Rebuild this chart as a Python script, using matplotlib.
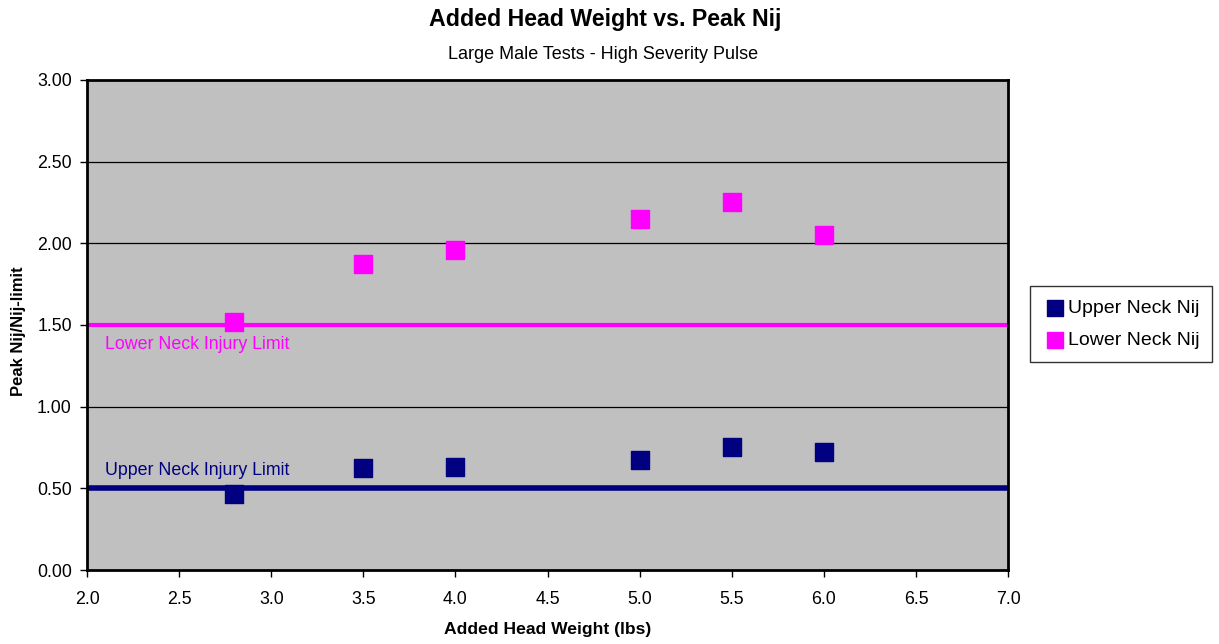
import matplotlib.pyplot as plt
from matplotlib.ticker import FormatStrFormatter

plt.rcParams['font.family'] = ['Liberation Sans', 'DejaVu Sans']

head_weight = [2.8, 3.5, 4.0, 5.0, 5.5, 6.0]
upper_nij = [0.465, 0.624, 0.631, 0.673, 0.752, 0.721]
lower_nij = [1.516, 1.873, 1.959, 2.146, 2.251, 2.049]
upper_limit = 0.5
lower_limit = 1.5

navy = '#000080'
magenta = '#ff00ff'

fig = plt.figure(figsize=(12.19, 6.44), dpi=100)
ax = fig.add_axes([0.0714, 0.1149, 0.7556, 0.7609])
ax.set_facecolor('#c0c0c0')

# grid lines
for y in [0.5, 1.0, 1.5, 2.0, 2.5]:
    ax.axhline(y, color='black', lw=0.9, zorder=1)

ax.axhline(lower_limit, color=magenta, lw=3, zorder=2)
ax.axhline(upper_limit, color=navy, lw=4, zorder=2)

ax.scatter(head_weight, upper_nij, marker='s', s=150, color=navy, zorder=3, label='Upper Neck Nij')
ax.scatter(head_weight, lower_nij, marker='s', s=150, color=magenta, zorder=3, label='Lower Neck Nij')

ax.text(2.1, lower_limit - 0.07, 'Lower Neck Injury Limit', color=magenta, fontsize=12.8, va='top')
ax.text(2.1, upper_limit + 0.06, 'Upper Neck Injury Limit', color=navy, fontsize=12.8, va='bottom')

ax.set_xlim(2.0, 7.0)
ax.set_ylim(0, 3.0)
ax.set_xticks([2.0 + 0.5 * i for i in range(11)])
ax.set_yticks([0.5 * i for i in range(7)])
ax.xaxis.set_major_formatter(FormatStrFormatter('%.1f'))
ax.yaxis.set_major_formatter(FormatStrFormatter('%.2f'))
ax.tick_params(labelsize=12.8, direction='out', length=5, width=1, pad=6)
ax.tick_params(axis='x', pad=10)
for s in ax.spines.values():
    s.set_linewidth(2)

ax.set_xlabel('Added Head Weight (lbs)', fontsize=12.6, fontweight='bold', labelpad=10)
ax.set_ylabel('Peak Nij/Nij-limit', fontsize=12, fontweight='bold')
ax.yaxis.set_label_coords(-0.066, 0.488)

fig.text(0.4963, 0.969, 'Added Head Weight vs. Peak Nij', fontsize=16.7, fontweight='bold', ha='center', va='center')
fig.text(0.4947, 0.916, 'Large Male Tests - High Severity Pulse', fontsize=13, ha='center', va='center')

leg = ax.legend(loc='center left', bbox_to_anchor=(1.0235, 0.502), fontsize=14, frameon=True,
                fancybox=False, edgecolor='black', handletextpad=0.0, borderpad=0.65,
                borderaxespad=0, labelspacing=0.75, handlelength=1.3, markerscale=0.9)
leg.get_frame().set_linewidth(1)

fig.savefig('out.png', dpi=100)
